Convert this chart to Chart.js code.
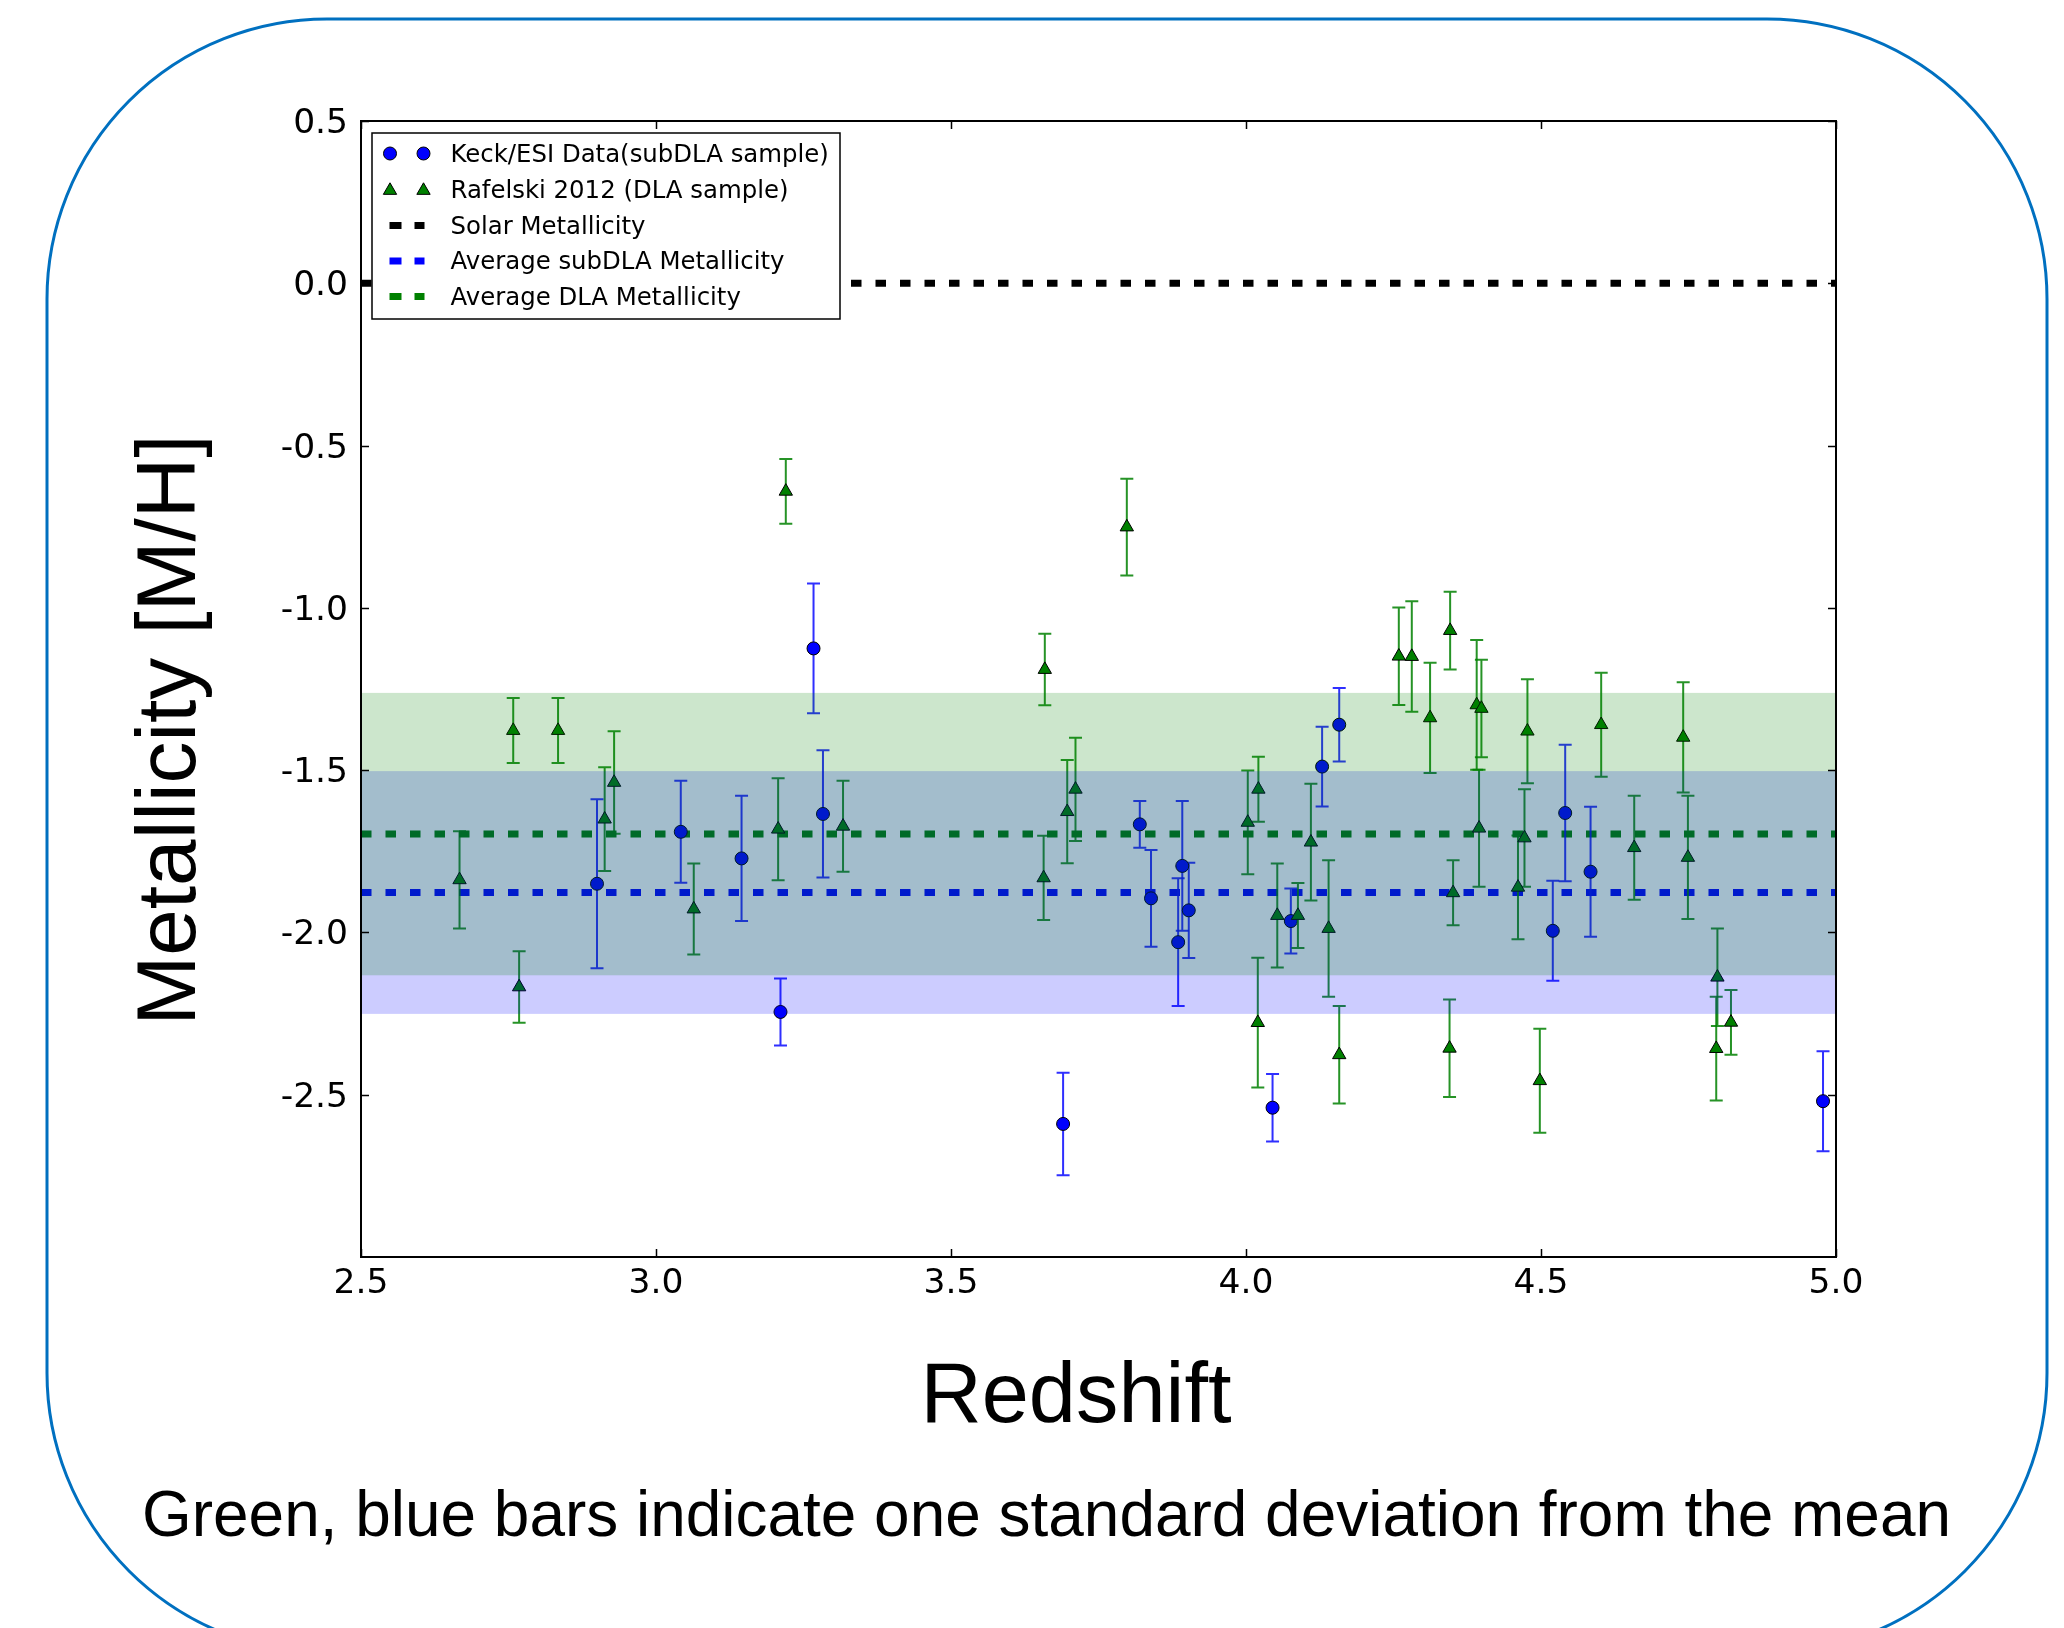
<!DOCTYPE html>
<html>
<head>
<meta charset="utf-8">
<script src="https://cdn.jsdelivr.net/npm/chart.js@4.4.1/dist/chart.umd.min.js"></script>
<style>
html,body{margin:0;padding:0;background:#ffffff;}
canvas{display:block;}
</style>
</head>
<body>
<canvas id="c" width="2064" height="1628" style="width:2064px;height:1628px"></canvas>
<script>
// ---------------- data ----------------
const subZ   = [2.900, 3.042, 3.145, 3.211, 3.267, 3.283, 3.690, 3.820, 3.839, 3.885, 3.892, 3.903, 4.045, 4.076, 4.129, 4.158, 4.520, 4.541, 4.584, 4.978];
const subM   = [-1.850, -1.690, -1.772, -2.245, -1.125, -1.635, -2.590, -1.667, -1.895, -2.030, -1.795, -1.932, -2.540, -1.965, -1.489, -1.360, -1.995, -1.632, -1.813, -2.520];
const subErr = [0.260, 0.157, 0.193, 0.103, 0.200, 0.196, 0.158, 0.072, 0.149, 0.197, 0.200, 0.147, 0.104, 0.100, 0.123, 0.113, 0.154, 0.210, 0.200, 0.154];

const dlaZ   = [2.667, 2.758, 2.768, 2.834, 2.913, 2.929, 3.064, 3.207, 3.220, 3.317, 3.657, 3.659, 3.697, 3.711, 3.798, 4.003, 4.020, 4.021, 4.053, 4.088, 4.110, 4.140, 4.158, 4.259, 4.281, 4.312, 4.346, 4.345, 4.351, 4.391, 4.395, 4.399, 4.461, 4.472, 4.477, 4.498, 4.602, 4.658, 4.741, 4.749, 4.797, 4.799, 4.822];
const dlaM   = [-1.838, -1.378, -2.168, -1.378, -1.651, -1.538, -1.928, -1.682, -0.641, -1.673, -1.832, -1.190, -1.628, -1.559, -0.751, -1.661, -2.278, -1.559, -1.948, -1.948, -1.722, -1.988, -2.377, -1.149, -1.150, -1.339, -1.070, -2.357, -1.878, -1.299, -1.679, -1.310, -1.861, -1.709, -1.380, -2.457, -1.360, -1.739, -1.399, -1.769, -2.358, -2.138, -2.277];
const dlaErr = [0.150, 0.100, 0.110, 0.100, 0.160, 0.158, 0.140, 0.157, 0.100, 0.140, 0.130, 0.110, 0.159, 0.159, 0.149, 0.160, 0.200, 0.100, 0.160, 0.100, 0.180, 0.210, 0.150, 0.150, 0.170, 0.170, 0.120, 0.150, 0.100, 0.200, 0.180, 0.150, 0.160, 0.150, 0.160, 0.160, 0.160, 0.160, 0.170, 0.190, 0.160, 0.150, 0.100];

const xRange = [2.5, 5.0];
const yRange = [-3.0, 0.5];
const xTicks = [2.5, 3.0, 3.5, 4.0, 4.5, 5.0];
const yTicks = [0.5, 0.0, -0.5, -1.0, -1.5, -2.0, -2.5];

const solarLevel = 0.0;
const meanSubDLA = -1.877;
const sdSubDLA   = 0.374;
const meanDLA    = -1.697;
const sdDLA      = 0.435;

const legendLabels = ['Keck/ESI Data(subDLA sample)', 'Rafelski 2012 (DLA sample)', 'Solar Metallicity', 'Average subDLA Metallicity', 'Average DLA Metallicity'];
const xTitle = 'Redshift';
const yTitle = 'Metallicity [M/H]';
const caption = 'Green, blue bars indicate one standard deviation from the mean';

// ---------------- styling ----------------
const BLUE = 'rgb(0,0,255)';
const GREEN = 'rgb(0,128,0)';
const DASH = [10.5, 14];
const TICKFONT = '"DejaVu Sans", sans-serif';
const SANS = '"Liberation Sans", Arial, sans-serif';

const toPts = (xs, ys) => xs.map((x, i) => ({x: x, y: ys[i]}));
const hLine = (v) => [{x: xRange[0], y: v}, {x: xRange[1], y: v}];

function drawErrorBars(chart, ds) {
  const ctx = chart.ctx;
  const xs = chart.scales.x, ys = chart.scales.y;
  ctx.save();
  ctx.strokeStyle = ds.errColor;
  ctx.lineWidth = 2;
  ds.data.forEach((p, i) => {
    const e = ds.errors[i];
    const x = xs.getPixelForValue(p.x);
    const y1 = ys.getPixelForValue(p.y + e);
    const y2 = ys.getPixelForValue(p.y - e);
    ctx.beginPath();
    ctx.moveTo(x, y1); ctx.lineTo(x, y2);
    ctx.moveTo(x - 6.5, y1); ctx.lineTo(x + 6.5, y1);
    ctx.moveTo(x - 6.5, y2); ctx.lineTo(x + 6.5, y2);
    ctx.stroke();
  });
  ctx.restore();
}

function fitText(ctx, text, x, y, size, width, rot) {
  ctx.save();
  ctx.font = size + 'px ' + SANS;
  const w = ctx.measureText(text).width;
  ctx.translate(x, y);
  ctx.rotate(rot);
  ctx.scale(width / w, 1);
  ctx.textAlign = 'center';
  ctx.textBaseline = 'alphabetic';
  ctx.fillStyle = '#000';
  ctx.fillText(text, 0, 0);
  ctx.restore();
}

function drawTri(ctx, x, y, r) {
  ctx.beginPath();
  ctx.moveTo(x, y - r);
  ctx.lineTo(x + r * 0.866, y + r * 0.5);
  ctx.lineTo(x - r * 0.866, y + r * 0.5);
  ctx.closePath();
  ctx.fill(); ctx.stroke();
}

const customPlugin = {
  id: 'custom',
  beforeDraw(chart) {
    const ctx = chart.ctx;
    ctx.save();
    ctx.fillStyle = '#ffffff';
    ctx.fillRect(0, 0, chart.width, chart.height);
    // rounded slide frame
    const x = 47, y = 19, w = 2000, h = 1634, r = 280;
    ctx.beginPath();
    ctx.moveTo(x + r, y);
    ctx.lineTo(x + w - r, y);
    ctx.arcTo(x + w, y, x + w, y + r, r);
    ctx.lineTo(x + w, y + h - r);
    ctx.arcTo(x + w, y + h, x + w - r, y + h, r);
    ctx.lineTo(x + r, y + h);
    ctx.arcTo(x, y + h, x, y + h - r, r);
    ctx.lineTo(x, y + r);
    ctx.arcTo(x, y, x + r, y, r);
    ctx.closePath();
    ctx.strokeStyle = '#0070C0';
    ctx.lineWidth = 3;
    ctx.stroke();
    ctx.restore();
  },
  beforeDatasetDraw(chart, args) {
    const ds = chart.data.datasets[args.index];
    if (ds.errors) drawErrorBars(chart, ds);
  },
  afterDatasetsDraw(chart) {
    const ctx = chart.ctx;
    const a = chart.chartArea;
    const ys = chart.scales.y;
    ctx.save();
    // subDLA band first, then DLA band over it (alpha 0.2 each)
    let t = ys.getPixelForValue(meanSubDLA + sdSubDLA), b = ys.getPixelForValue(meanSubDLA - sdSubDLA);
    ctx.fillStyle = 'rgba(0,0,255,0.2)';
    ctx.fillRect(a.left, t, a.right - a.left, b - t);
    t = ys.getPixelForValue(meanDLA + sdDLA); b = ys.getPixelForValue(meanDLA - sdDLA);
    ctx.fillStyle = 'rgba(0,128,0,0.2)';
    ctx.fillRect(a.left, t, a.right - a.left, b - t);
    ctx.restore();
  },
  afterDraw(chart) {
    const ctx = chart.ctx;
    const a = chart.chartArea;
    const xs = chart.scales.x, ys = chart.scales.y;
    ctx.save();
    // inward ticks on all four sides
    ctx.strokeStyle = '#000';
    ctx.lineWidth = 1.5;
    ctx.beginPath();
    xTicks.forEach(v => {
      const x = Math.round(xs.getPixelForValue(v)) + 0.5;
      ctx.moveTo(x, a.bottom); ctx.lineTo(x, a.bottom - 8);
      ctx.moveTo(x, a.top); ctx.lineTo(x, a.top + 8);
    });
    yTicks.forEach(v => {
      const y = Math.round(ys.getPixelForValue(v)) + 0.5;
      ctx.moveTo(a.left, y); ctx.lineTo(a.left + 8, y);
      ctx.moveTo(a.right, y); ctx.lineTo(a.right - 8, y);
    });
    ctx.stroke();
    // axes frame
    ctx.lineWidth = 2;
    ctx.strokeRect(a.left, a.top, a.right - a.left, a.bottom - a.top);

    // legend
    const lx = 372, ly = 133, lw = 468, lh = 186;
    ctx.fillStyle = '#fff';
    ctx.fillRect(lx, ly, lw, lh);
    ctx.lineWidth = 1.5;
    ctx.strokeStyle = '#000';
    ctx.strokeRect(lx, ly, lw, lh);
    const rows = [153.5, 189.5, 225.5, 261, 296.5];
    const m1 = 390, m2 = 423.5;
    ctx.fillStyle = BLUE; ctx.strokeStyle = '#000'; ctx.lineWidth = 1;
    [m1, m2].forEach(mx => { ctx.beginPath(); ctx.arc(mx, rows[0], 6.5, 0, Math.PI * 2); ctx.fill(); ctx.stroke(); });
    ctx.fillStyle = GREEN;
    [m1, m2].forEach(mx => drawTri(ctx, mx, rows[1] + 1, 7.7));
    const lineCols = ['#000000', BLUE, GREEN];
    lineCols.forEach((c, i) => {
      ctx.strokeStyle = c; ctx.lineWidth = 7; ctx.setLineDash([12, 13]);
      ctx.beginPath(); ctx.moveTo(389.5, rows[2 + i]); ctx.lineTo(424.5, rows[2 + i]); ctx.stroke();
    });
    ctx.setLineDash([]);
    ctx.fillStyle = '#000';
    ctx.font = '24.4px ' + TICKFONT;
    ctx.textAlign = 'left';
    ctx.textBaseline = 'middle';
    legendLabels.forEach((t, i) => ctx.fillText(t, 450.5, rows[i] + 2));

    // titles and caption
    fitText(ctx, xTitle, 1076, 1422, 85, 311, 0);
    fitText(ctx, yTitle, 195, 730, 84, 591, -Math.PI / 2);
    fitText(ctx, caption, 1046.5, 1536, 65, 1809, 0);
    ctx.restore();
  }
};

const chart = new Chart(document.getElementById('c'), {
  type: 'scatter',
  data: {
    datasets: [
      {
        label: legendLabels[1],
        data: toPts(dlaZ, dlaM),
        errors: dlaErr,
        errColor: 'rgba(0,128,0,0.85)',
        pointStyle: 'triangle',
        pointRadius: 7.7,
        pointHoverRadius: 7.7,
        backgroundColor: GREEN,
        borderColor: '#000',
        borderWidth: 1,
        order: 0
      },
      {
        label: legendLabels[0],
        data: toPts(subZ, subM),
        errors: subErr,
        errColor: 'rgba(10,10,255,0.85)',
        pointStyle: 'circle',
        pointRadius: 6.5,
        pointHoverRadius: 6.5,
        backgroundColor: BLUE,
        borderColor: '#000',
        borderWidth: 1,
        order: 1
      },
      {
        type: 'line', label: legendLabels[4], data: hLine(meanDLA),
        borderColor: GREEN, borderWidth: 7, borderDash: DASH, pointRadius: 0, fill: false, order: 2
      },
      {
        type: 'line', label: legendLabels[3], data: hLine(meanSubDLA),
        borderColor: BLUE, borderWidth: 7, borderDash: DASH, pointRadius: 0, fill: false, order: 3
      },
      {
        type: 'line', label: legendLabels[2], data: hLine(solarLevel),
        borderColor: '#000', borderWidth: 7, borderDash: DASH, pointRadius: 0, fill: false, order: 4
      }
    ]
  },
  options: {
    responsive: false,
    animation: false,
    devicePixelRatio: 1,
    layout: { padding: { left: 0, top: 121, right: 228, bottom: 0 } },
    plugins: { legend: { display: false }, tooltip: { enabled: false }, title: { display: false } },
    events: [],
    scales: {
      x: {
        type: 'linear', position: 'bottom', min: xRange[0], max: xRange[1],
        afterBuildTicks: s => { s.ticks = xTicks.map(v => ({value: v})); },
        ticks: { font: { family: TICKFONT, size: 34.5 }, color: '#000', padding: 6, maxRotation: 0, autoSkip: false,
                 callback: v => Number(v).toFixed(1) },
        grid: { display: false, drawTicks: false },
        border: { display: false },
        afterFit: s => { s.height = 371; }
      },
      y: {
        type: 'linear', position: 'left', min: yRange[0], max: yRange[1],
        afterBuildTicks: s => { s.ticks = yTicks.map(v => ({value: v})); },
        ticks: { font: { family: TICKFONT, size: 34.5 }, color: '#000', padding: 13, labelOffset: 3, autoSkip: false,
                 callback: v => Number(v).toFixed(1) },
        grid: { display: false, drawTicks: false },
        border: { display: false },
        afterFit: s => { s.width = 361; }
      }
    }
  },
  plugins: [customPlugin]
});
</script>
</body>
</html>
